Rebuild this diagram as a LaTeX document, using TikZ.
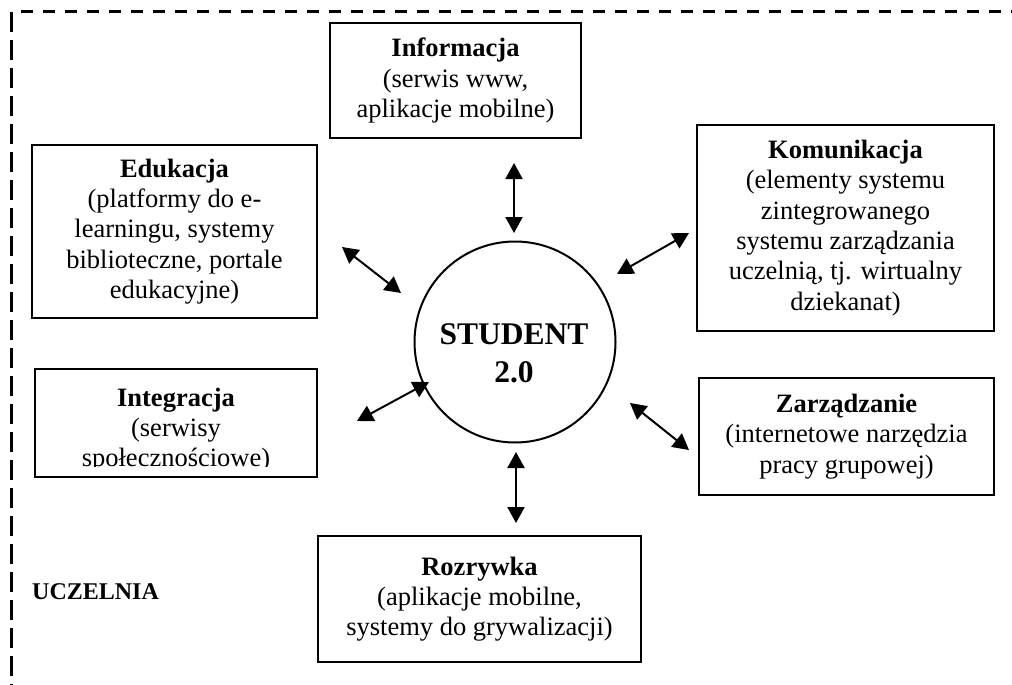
\documentclass[tikz,border=0pt]{standalone}
\usepackage{fontspec}
\setmainfont{Liberation Serif}
\usetikzlibrary{arrows.meta}
\tikzset{
  boxnode/.style={draw, line width=2pt, align=center, inner sep=0pt,
    font=\fontsize{26.5}{30.3}\selectfont},
  txtnode/.style={align=center, inner sep=0pt, font=\fontsize{26.5}{30.3}\selectfont},
  twoway/.style={line width=2pt, {Triangle[length=16pt,width=17pt]}-{Triangle[length=16pt,width=17pt]}},
  frameline/.style={line width=3pt}
}
\begin{document}
\begin{tikzpicture}[x=1pt,y=-1pt]
\useasboundingbox (0,0) rectangle (1012,685);
\fill[white] (0,0) rectangle (1012,685);
% frame (UCZELNIA)
\coordinate (fc) at (11,12);
\coordinate (fr) at (1014,12);
\coordinate (fb) at (11,687);
\draw[frameline, dash pattern=on 12pt off 10pt, dash phase=12pt] (fc) -- (fr);
\draw[frameline, dash pattern=on 20pt off 8pt] (fc) -- (fb);
\node[anchor=base west, inner sep=0pt, font=\fontsize{24}{28}\selectfont\bfseries] (ucz) at (32,599) {UCZELNIA};

% boxes
\node[boxnode, minimum width=251pt, minimum height=115pt] (info) at (455.5,80.5)
  {\textbf{Informacja}\\(serwis www,\\aplikacje mobilne)};
\node[boxnode, minimum width=285pt, minimum height=173pt] (edu) at (174.5,231.5)
  {\textbf{Edukacja}\\(platformy do e-\\learningu, systemy\\biblioteczne, portale\\edukacyjne)};
\node[boxnode, minimum width=297pt, minimum height=206pt] (kom) at (845.5,228)
  {\textbf{Komunikacja}\\(elementy systemu\\zintegrowanego\\systemu zarządzania\\uczelnią, tj. wirtualny\\dziekanat)};
\begin{scope}
  \clip (35,369) rectangle (317,466);
  \node[txtnode] (integt) at (176,430) {\textbf{Integracja}\\(serwisy\\społecznościowe)};
\end{scope}
\node[draw, line width=2pt, minimum width=282pt, minimum height=108pt, inner sep=0pt] (integ) at (176,423) {};
\node[boxnode, minimum width=295pt, minimum height=117pt] (zarz) at (846.5,436.5)
  {\textbf{Zarządzanie}\\(internetowe narzędzia\\pracy grupowej)};
\node[boxnode, minimum width=323pt, minimum height=126pt] (rozr) at (479.5,599)
  {\textbf{Rozrywka}\\(aplikacje mobilne,\\systemy do grywalizacji)};

% student circle
\node[draw, circle, line width=2pt, minimum size=201pt, inner sep=0pt] (student) at (515,342) {};
\node[align=center, inner sep=0pt, font=\fontsize{31.5}{37.7}\selectfont\bfseries] (studentlbl) at (514,353) {STUDENT\\2.0};

% arrow end points
\coordinate (a1) at (514,163); \coordinate (b1) at (514,233);
\coordinate (a2) at (342,247); \coordinate (b2) at (401,293);
\coordinate (a3) at (689,233); \coordinate (b3) at (617,274);
\coordinate (a4) at (357,421); \coordinate (b4) at (429,382);
\coordinate (a5) at (630,403); \coordinate (b5) at (689,450);
\coordinate (a6) at (516,452); \coordinate (b6) at (516,523);
\draw[twoway] (a1) -- (b1);
\draw[twoway] (a2) -- (b2);
\draw[twoway] (a3) -- (b3);
\draw[twoway] (a4) -- (b4);
\draw[twoway] (a5) -- (b5);
\draw[twoway] (a6) -- (b6);
\end{tikzpicture}
\end{document}
